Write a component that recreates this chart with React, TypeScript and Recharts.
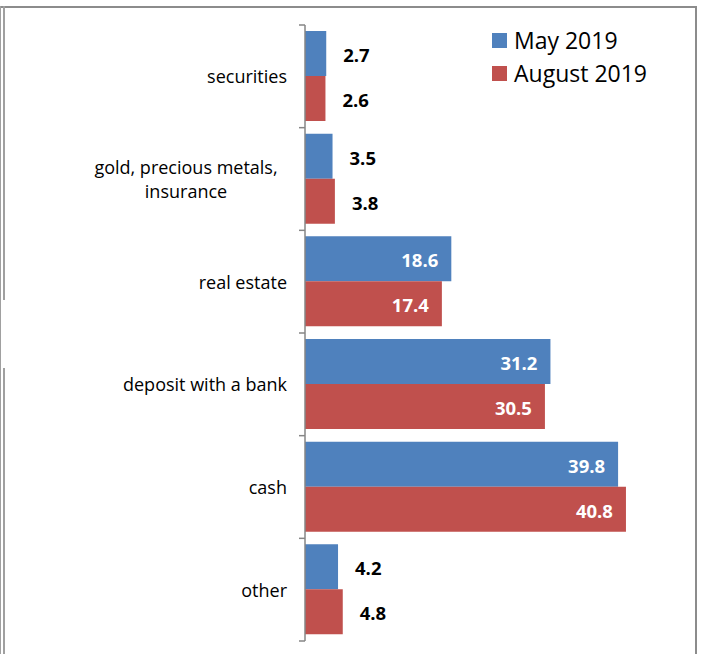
import React from "react";
import { BarChart, Bar, XAxis, YAxis, LabelList } from "recharts";

const categories = ["securities", "gold, precious metals,\ninsurance", "real estate", "deposit with a bank", "cash", "other"];
const may2019 = [2.7, 3.5, 18.6, 31.2, 39.8, 4.2];
const aug2019 = [2.6, 3.8, 17.4, 30.5, 40.8, 4.8];
const seriesNames = ["May 2019", "August 2019"];
const seriesColors = ["#4F81BD", "#C0504D"];

const data = categories.map((c, i) => ({ name: c, may: may2019[i], aug: aug2019[i] }));

const FONT = "'Open Sans', sans-serif";
const W = 702;
const H = 654;
const MARGIN = { top: 25, right: 43, bottom: 13, left: 0 };
const AXIS_W = 305;
const BAND = (H - MARGIN.top - MARGIN.bottom) / categories.length;
const AXIS_COLOR = "#868686";

const CategoryTick = (props: any) => {
  const { x, y, payload, index } = props;
  const lines = String(payload.value).split("\n");
  const lh = 24;
  const y0 = y - ((lines.length - 1) * lh) / 2;
  const multi = lines.length > 1;
  const tx = multi ? x - 119 : x - 18;
  return (
    <g>
      <line x1={x - 6} x2={x} y1={y - BAND / 2} y2={y - BAND / 2} stroke={AXIS_COLOR} strokeWidth={1.5} />
      {index === categories.length - 1 && (
        <line x1={x - 6} x2={x} y1={y + BAND / 2} y2={y + BAND / 2} stroke={AXIS_COLOR} strokeWidth={1.5} />
      )}
      <text
        x={tx}
        y={y0}
        textAnchor={multi ? "middle" : "end"}
        dominantBaseline="central"
        fontFamily={FONT}
        fontSize={18}
        fill="#000"
      >
        {lines.map((l, i) => (
          <tspan key={i} x={tx} y={y0 + i * lh}>
            {l}
          </tspan>
        ))}
      </text>
    </g>
  );
};

const ValueLabel = (props: any) => {
  const { x, y, width, height, value } = props;
  const inside = value > 10;
  return (
    <text
      x={inside ? x + width - 13 : x + width + 17}
      y={y + height / 2 + 1}
      textAnchor={inside ? "end" : "start"}
      dominantBaseline="central"
      fontFamily={FONT}
      fontWeight="bold"
      fontSize={18.5}
      fill={inside ? "#fff" : "#000"}
    >
      {value}
    </text>
  );
};

const LegendBox = () => (
  <div style={{ position: "absolute", left: 492, top: 24, fontFamily: FONT, fontSize: 23, lineHeight: "33px" }}>
    {seriesNames.map((n, i) => (
      <div key={n} style={{ display: "flex", alignItems: "center" }}>
        <span style={{ display: "inline-block", width: 15, height: 15, background: seriesColors[i], marginRight: 7 }} />
        <span>{n}</span>
      </div>
    ))}
  </div>
);

export default function App() {
  return (
    <div style={{ position: "absolute", left: 0, top: 0, width: W, height: H, background: "#fff", overflow: "hidden" }}>
      <div style={{ position: "absolute", left: 0, top: 6, width: 695, height: 700, borderTop: "2px solid #8c8c8c", borderRight: "2px solid #8c8c8c" }} />
      <div style={{ position: "absolute", left: 0, top: 6, width: 1, height: 700, background: "#a0a0a0" }} />
      <div style={{ position: "absolute", left: 3, top: 6, width: 2, height: 294, background: "#a0a0a0" }} />
      <div style={{ position: "absolute", left: 3, top: 368, width: 2, height: 300, background: "#a0a0a0" }} />
      <div style={{ position: "absolute", left: 0, top: 0 }}>
        <BarChart width={W} height={H} data={data} layout="vertical" margin={MARGIN} barSize={45} barGap={0}>
          <XAxis type="number" domain={[0, 45]} hide />
          <YAxis
            type="category"
            dataKey="name"
            width={AXIS_W}
            tickLine={false}
            tickSize={0}
            tickMargin={0}
            axisLine={{ stroke: AXIS_COLOR, strokeWidth: 1.5 }}
            tick={<CategoryTick />}
            interval={0}
          />
          <Bar dataKey="may" name={seriesNames[0]} fill={seriesColors[0]} isAnimationActive={false}>
            <LabelList dataKey="may" content={<ValueLabel />} />
          </Bar>
          <Bar dataKey="aug" name={seriesNames[1]} fill={seriesColors[1]} isAnimationActive={false}>
            <LabelList dataKey="aug" content={<ValueLabel />} />
          </Bar>
        </BarChart>
      </div>
      <LegendBox />
    </div>
  );
}
